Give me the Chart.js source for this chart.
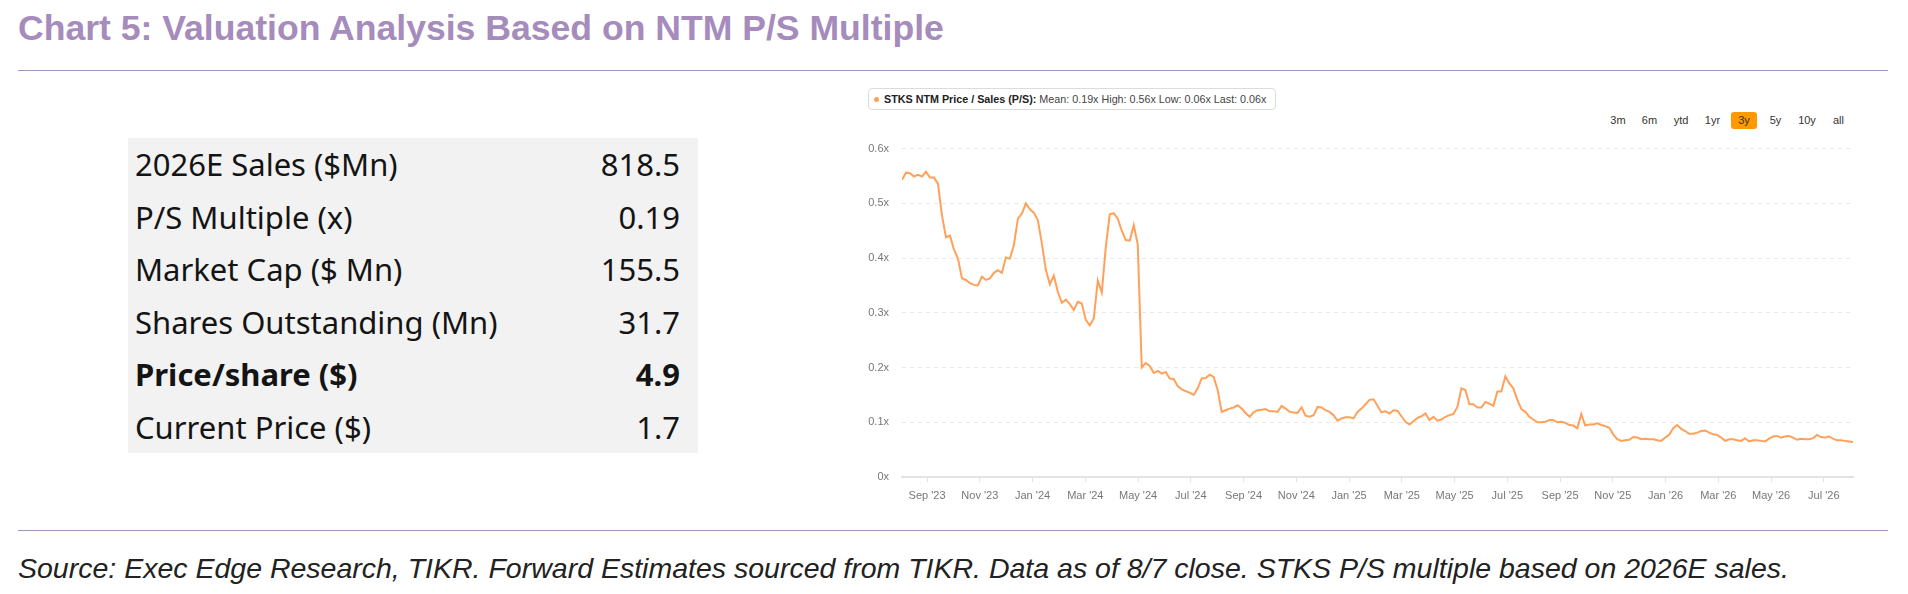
<!DOCTYPE html>
<html>
<head>
<meta charset="utf-8">
<script src="https://cdn.jsdelivr.net/npm/chart.js@4.4.1/dist/chart.umd.min.js"></script>
<style>
  html, body { margin: 0; padding: 0; background: #fff; }
  body { width: 1908px; height: 594px; position: relative; overflow: hidden; font-family: "Liberation Sans", Arial, sans-serif; }
  .titulo { position: absolute; left: 18px; top: 9.5px; font-size: 35.6px; line-height: 36px; font-weight: bold; color: #a68bbd; white-space: nowrap; }
  .linea { position: absolute; left: 18px; width: 1870px; height: 0; border-top: 1.5px solid #a591c0; }
  .tabla { position: absolute; left: 128px; top: 138px; width: 570px; height: 315px; background: #f2f2f2; }
  .fila { position: absolute; left: 7px; right: 18px; height: 52.5px; line-height: 52.5px; font-family: "Noto Sans", sans-serif; font-size: 31px; color: #141414; white-space: nowrap; }
  .fila span.valor { position: absolute; right: 0; }
  .fila.negrita { font-weight: bold; }
  .leyenda { position: absolute; left: 868px; top: 88px; width: 406px; height: 20px; border: 1px solid #dcdcdc; border-radius: 4px; font-size: 10.75px; line-height: 20px; color: #444; white-space: nowrap; }
  .leyenda .punto { position: absolute; left: 5px; top: 8px; width: 5px; height: 5px; border-radius: 50%; background: #ffa15a; }
  .leyenda .texto { position: absolute; left: 15px; top: 0; }
  .leyenda b { color: #222; }
  .boton { position: absolute; top: 112px; height: 17px; line-height: 17px; font-size: 11px; color: #333; text-align: center; width: 26px; margin-left: -13px; border-radius: 3px; }
  .boton.activo { background: #ff9900; }
  .fuente { position: absolute; left: 18px; top: 554px; font-size: 28.5px; line-height: 28px; font-style: italic; color: #222; white-space: nowrap; }
  #grafico { position: absolute; left: 840px; top: 129px; }
</style>
</head>
<body>
<div class="titulo">Chart 5: Valuation Analysis Based on NTM P/S Multiple</div>
<div class="linea" style="top:70px"></div>

<div class="tabla" id="tabla"></div>

<div class="leyenda"><div class="punto"></div><div class="texto" id="textoLeyenda"></div></div>
<div id="botones"></div>

<canvas id="grafico" width="1030" height="386"></canvas>

<div class="linea" style="top:530px"></div>
<div class="fuente">Source: Exec Edge Research, TIKR. Forward Estimates sourced from TIKR. Data as of 8/7 close. STKS P/S multiple based on 2026E sales.</div>

<script>
// Tabla de valoración
const filasTabla = ['2026E Sales ($Mn)', 'P/S Multiple (x)', 'Market Cap ($ Mn)', 'Shares Outstanding (Mn)', 'Price/share ($)', 'Current Price ($)'];
const valoresTabla = ['818.5', '0.19', '155.5', '31.7', '4.9', '1.7'];
const filaNegrita = 4;

// Botones de rango
const rangos = ['3m', '6m', 'ytd', '1yr', '3y', '5y', '10y', 'all'];
const rangoActivo = '3y';

// Eje X: etiquetas y su posición en meses desde Sep '23
const etiquetasX = ["Sep '23", "Nov '23", "Jan '24", "Mar '24", "May '24", "Jul '24", "Sep '24", "Nov '24", "Jan '25",
  "Mar '25", "May '25", "Jul '25", "Sep '25", "Nov '25", "Jan '26", "Mar '26", "May '26", "Jul '26"];
const mesesX = [0, 2, 4, 6, 8, 10, 12, 14, 16, 18, 20, 22, 24, 26, 28, 30, 32, 34];

// Serie NTM P/S (cada ~4.6 días), empieza a inicios de agosto '23
const mesInicial = -0.95;
const pasoMes = 0.1515;
const valoresPS = [
  0.543, 0.556, 0.555, 0.549, 0.552, 0.549, 0.558, 0.547, 0.547, 0.536,
  0.478, 0.438, 0.441, 0.416, 0.399, 0.363, 0.360, 0.354, 0.351, 0.350,
  0.366, 0.360, 0.363, 0.373, 0.378, 0.373, 0.401, 0.399, 0.424, 0.472,
  0.481, 0.500, 0.489, 0.483, 0.469, 0.427, 0.378, 0.352, 0.368, 0.338,
  0.318, 0.324, 0.316, 0.305, 0.320, 0.317, 0.287, 0.277, 0.290, 0.359,
  0.337, 0.420, 0.480, 0.482, 0.472, 0.450, 0.433, 0.432, 0.460, 0.425,
  0.200, 0.208, 0.203, 0.190, 0.194, 0.189, 0.192, 0.180, 0.179, 0.166,
  0.160, 0.157, 0.154, 0.150, 0.162, 0.180, 0.181, 0.187, 0.183, 0.159,
  0.119, 0.122, 0.125, 0.127, 0.131, 0.125, 0.117, 0.110, 0.118, 0.122,
  0.123, 0.124, 0.120, 0.120, 0.119, 0.130, 0.125, 0.119, 0.118, 0.117,
  0.127, 0.112, 0.110, 0.113, 0.128, 0.127, 0.122, 0.119, 0.113, 0.103,
  0.107, 0.109, 0.109, 0.107, 0.119, 0.125, 0.133, 0.141, 0.142, 0.130,
  0.118, 0.120, 0.116, 0.122, 0.121, 0.111, 0.101, 0.096, 0.102, 0.108,
  0.111, 0.116, 0.104, 0.110, 0.103, 0.105, 0.110, 0.113, 0.115, 0.128,
  0.162, 0.159, 0.133, 0.133, 0.127, 0.127, 0.137, 0.134, 0.130, 0.156,
  0.156, 0.184, 0.171, 0.162, 0.141, 0.124, 0.119, 0.110, 0.105, 0.100,
  0.100, 0.101, 0.104, 0.104, 0.100, 0.101, 0.099, 0.095, 0.094, 0.089,
  0.115, 0.094, 0.096, 0.096, 0.098, 0.095, 0.093, 0.090, 0.078, 0.069,
  0.066, 0.067, 0.068, 0.073, 0.072, 0.069, 0.070, 0.069, 0.069, 0.067,
  0.066, 0.072, 0.077, 0.089, 0.095, 0.088, 0.084, 0.079, 0.079, 0.081,
  0.084, 0.085, 0.081, 0.078, 0.077, 0.072, 0.066, 0.069, 0.069, 0.067,
  0.066, 0.071, 0.065, 0.067, 0.067, 0.066, 0.065, 0.070, 0.074, 0.075,
  0.072, 0.074, 0.075, 0.072, 0.068, 0.070, 0.069, 0.069, 0.071, 0.077,
  0.073, 0.072, 0.074, 0.070, 0.067, 0.067, 0.066, 0.065, 0.064
];

// Resumen de la leyenda
const resumen = { mean: 0.19, high: 0.56, low: 0.06, last: 0.06 };

// Construir la tabla
const tabla = document.getElementById('tabla');
filasTabla.forEach((nombre, i) => {
  const fila = document.createElement('div');
  fila.className = 'fila' + (i === filaNegrita ? ' negrita' : '');
  fila.style.top = (i * 52.5) + 'px';
  fila.innerHTML = `<span>${nombre}</span><span class="valor">${valoresTabla[i]}</span>`;
  tabla.appendChild(fila);
});

// Leyenda
document.getElementById('textoLeyenda').innerHTML =
  `<b>STKS NTM Price / Sales (P/S):</b> Mean: ${resumen.mean.toFixed(2)}x High: ${resumen.high.toFixed(2)}x Low: ${resumen.low.toFixed(2)}x Last: ${resumen.last.toFixed(2)}x`;

// Botones
const botones = document.getElementById('botones');
rangos.forEach((r, i) => {
  const b = document.createElement('div');
  b.className = 'boton' + (r === rangoActivo ? ' activo' : '');
  b.style.left = (1618 + i * 31.5) + 'px';
  b.textContent = r;
  botones.appendChild(b);
});

// Crear la gráfica
const puntos = valoresPS.map((v, i) => ({ x: mesInicial + i * pasoMes, y: v }));
const ctx = document.getElementById('grafico').getContext('2d');

new Chart(ctx, {
  type: 'line',
  data: {
    datasets: [{
      data: puntos,
      borderColor: '#ffa15a',
      borderWidth: 2,
      pointRadius: 0,
      tension: 0,
      fill: false
    }]
  },
  options: {
    responsive: false,
    animation: false,
    devicePixelRatio: 1,
    layout: { padding: { top: 7, right: 17, bottom: 12, left: 0 } },
    plugins: { legend: { display: false }, tooltip: { enabled: false } },
    scales: {
      x: {
        type: 'linear',
        min: mesInicial,
        max: mesInicial + (valoresPS.length - 1) * pasoMes,
        afterBuildTicks: (scale) => { scale.ticks = mesesX.map(v => ({ value: v })); },
        afterFit: (scale) => { scale.height = 26; },
        grid: { drawOnChartArea: false, drawTicks: true, tickLength: 5, tickColor: '#e3e3e3' },
        border: { display: true, color: '#e3e3e3', width: 2 },
        ticks: {
          autoSkip: false,
          maxRotation: 0,
          padding: 7,
          color: '#777',
          font: { family: 'Liberation Sans', size: 11 },
          callback: (value, index) => etiquetasX[index]
        }
      },
      y: {
        min: 0,
        max: 0.6,
        afterFit: (scale) => { scale.width = 62; },
        grid: {
          drawTicks: false,
          color: (c) => c.tick && c.tick.value === 0 ? 'rgba(0,0,0,0)' : '#e8e8e8',
          lineWidth: 1
        },
        border: { display: false, dash: [4, 4] },
        ticks: {
          stepSize: 0.1,
          padding: 13,
          color: '#777',
          font: { family: 'Liberation Sans', size: 11 },
          callback: (v) => (v === 0 ? '0' : v.toFixed(1)) + 'x'
        }
      }
    }
  }
});
</script>
</body>
</html>
